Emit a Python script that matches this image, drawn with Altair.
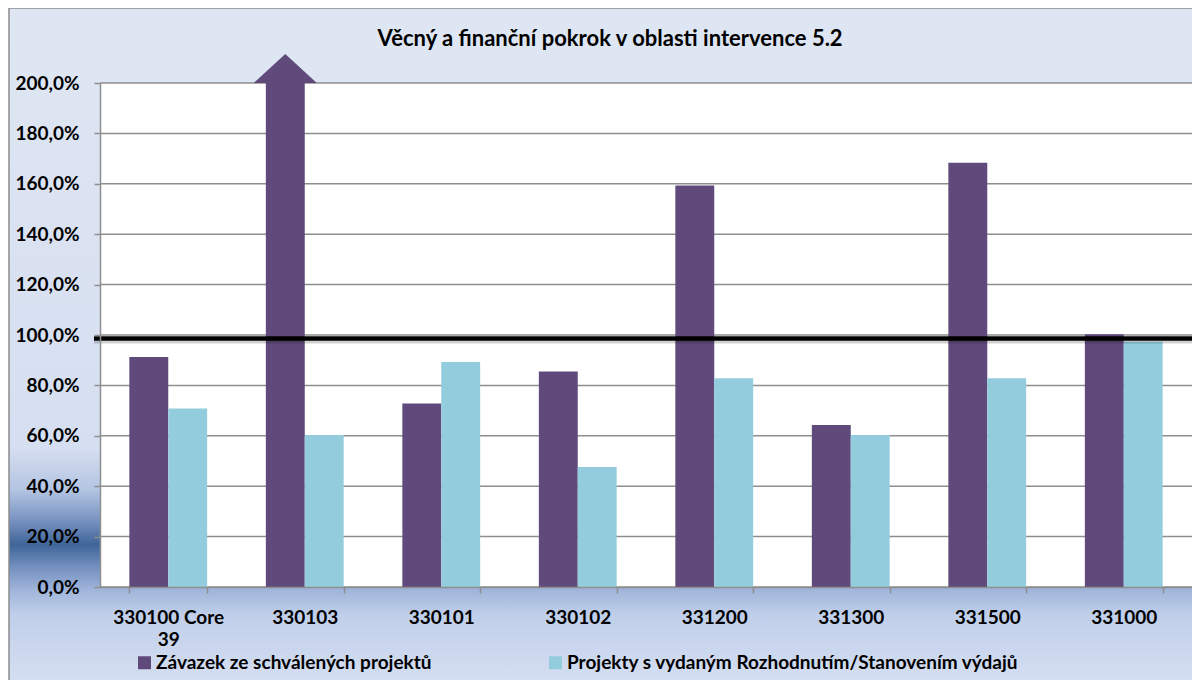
import altair as alt
import pandas as pd

TITLE = "Věcný a finanční pokrok v oblasti intervence 5.2"
CATEGORIES = ["330100 Core 39", "330103", "330101", "330102",
              "331200", "331300", "331500", "331000"]
SERIES = ["Závazek ze schválených projektů",
          "Projekty s vydaným Rozhodnutím/Stanovením výdajů"]
# 330103 commitment runs off the top of the scale (drawn with an arrow)
COMMITMENT = [91.3, 200.0, 72.8, 85.5, 159.3, 64.3, 168.4, 100.3]
DECISIONS = [70.8, 60.3, 89.3, 47.6, 82.8, 60.3, 82.8, 97.3]
Y_TICKS = [0, 20, 40, 60, 80, 100, 120, 140, 160, 180, 200]
Y_MAX = 200
TARGET_LINE = 98.6
COLORS = ["#5f4a7b", "#93cddd"]

W, H = 1092, 504
FONT = "Lato"
GRID = "#8e8e8e"

rows = []
for c, a, b in zip(CATEGORIES, COMMITMENT, DECISIONS):
    rows.append({"category": c, "series": SERIES[0], "value": a})
    rows.append({"category": c, "series": SERIES[1], "value": b})
df = pd.DataFrame(rows)
ticks_df = pd.DataFrame({"value": Y_TICKS})
one = pd.DataFrame({"k": [0]})

yscale = alt.Scale(domain=[0, Y_MAX], nice=False)

gradient = alt.Gradient(
    gradient="linear", x1=0, x2=0, y1=0, y2=1,
    stops=[
        alt.GradientStop(color="#dfe6f3", offset=0),
        alt.GradientStop(color="#d6dff1", offset=0.62),
        alt.GradientStop(color="#b3c4e2", offset=0.68),
        alt.GradientStop(color="#7993c1", offset=0.722),
        alt.GradientStop(color="#3f6598", offset=0.757),
        alt.GradientStop(color="#6f8cbd", offset=0.786),
        alt.GradientStop(color="#a0b5da", offset=0.821),
        alt.GradientStop(color="#c0cfea", offset=0.856),
        alt.GradientStop(color="#d7e0f2", offset=0.96),
        alt.GradientStop(color="#d9e1f2", offset=1),
    ],
)

x_axis = alt.Axis(
    title=None, labelAngle=0,
    labelExpr="datum.label == '330100 Core 39' ? ['330100 Core', '39'] : datum.label",
    labelLineHeight=22, labelBaseline="top",
    tickBand="extent", tickSize=6, tickColor=GRID, tickWidth=1.5,
    domainColor=GRID, domainWidth=1.5,
    labelFont=FONT, labelFontSize=19, labelFontWeight="bold", labelColor="black",
    labelPadding=15, zindex=1,
)
y_axis = alt.Axis(
    values=Y_TICKS, title=None, grid=False,
    labelExpr="replace(format(datum.value, '.1f'), '.', ',') + '%'",
    tickSize=6, tickColor=GRID, tickWidth=1.5,
    domainColor=GRID, domainWidth=1.5,
    labelFont=FONT, labelFontSize=19, labelFontWeight="bold", labelColor="black",
    labelPadding=15, zindex=1,
)
x_enc = alt.X("category:N", sort=CATEGORIES,
              scale=alt.Scale(paddingInner=0.43, paddingOuter=0.215), axis=x_axis)
y_enc = alt.Y("value:Q", scale=yscale, axis=y_axis)

bg = alt.Chart(one).mark_rect(fill=gradient, stroke="#8c8c8c", strokeWidth=1.5).encode(
    x=alt.value(-91), x2=alt.value(W + 30), y=alt.value(-75), y2=alt.value(H + 130)
)
plot_bg = alt.Chart(one).mark_rect(fill="white").encode(
    x=alt.value(0), x2=alt.value(W), y=alt.value(0), y2=alt.value(H)
)
grid = alt.Chart(ticks_df).mark_rule(color=GRID, strokeWidth=1.5).encode(
    y=y_enc, x=alt.value(0), x2=alt.value(W)
)

bars = alt.Chart(df).mark_bar().encode(
    x=x_enc,
    xOffset=alt.XOffset("series:N", sort=SERIES),
    y=y_enc,
    color=alt.Color(
        "series:N", sort=SERIES,
        scale=alt.Scale(domain=SERIES, range=COLORS),
        legend=alt.Legend(
            orient="none", legendX=35, legendY=570, direction="horizontal",
            title=None, symbolType="square", symbolSize=169, symbolStrokeWidth=0,
            labelFont=FONT, labelFontSize=19, labelFontWeight="bold", labelColor="black",
            columnPadding=114, padding=0, labelOffset=2, labelLimit=700,
        ),
    ),
)

arrow = alt.Chart(df).transform_filter(
    alt.datum.value >= Y_MAX
).mark_point(
    shape="M-1,0L1,0L0,-0.92Z", size=3969, filled=True, opacity=1,
    color=COLORS[0], strokeWidth=0,
).encode(
    x=x_enc,
    xOffset=alt.XOffset("series:N", sort=SERIES),
    y=y_enc,
)

shadow = alt.Chart(one).mark_rule(color="black", opacity=0.18, strokeWidth=4, yOffset=3).encode(
    y=alt.datum(TARGET_LINE), x=alt.value(-6), x2=alt.value(W + 20)
)
target = alt.Chart(one).mark_rule(color="black", strokeWidth=4.5).encode(
    y=alt.datum(TARGET_LINE), x=alt.value(-6), x2=alt.value(W + 20)
)

title = alt.Chart(one).mark_text(
    text=TITLE, font=FONT, fontSize=22, fontWeight="bold", color="black",
    align="center", baseline="alphabetic",
).encode(x=alt.value(510), y=alt.value(-37))

chart = alt.layer(bg, plot_bg, grid, bars, arrow, shadow, target, title).properties(
    width=W, height=H,
    autosize=alt.AutoSizeParams(type="none"),
    padding={"left": 92, "top": 75, "right": 0, "bottom": 93},
    background="white",
).configure_view(stroke=None)

chart.save("out.html", embed_options={"renderer": "svg", "actions": False})
